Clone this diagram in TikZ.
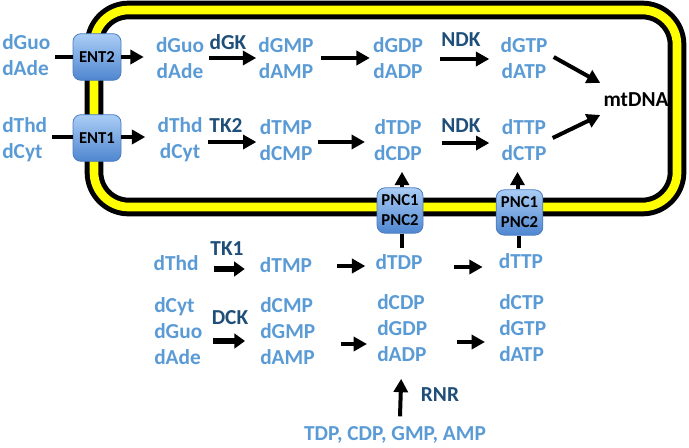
\documentclass[tikz,border=0pt]{standalone}
\usepackage{fontspec}
\setmainfont{Carlito}
\usetikzlibrary{arrows.meta,calc}
\definecolor{lb}{HTML}{5B9BD5}
\definecolor{db}{HTML}{1F4E79}
\definecolor{boxtop}{HTML}{AACDF5}
\definecolor{boxbot}{HTML}{4F86D0}
\definecolor{boxline}{HTML}{4A7BBF}
\definecolor{memy}{HTML}{FFFF00}
\begin{document}
\begin{tikzpicture}[x=0.75pt,y=-0.75pt,
  mol/.style={text=lb,font=\bfseries\fontsize{16}{19.5}\selectfont,inner sep=0pt,align=center},
  moll/.style={mol,align=left,anchor=west},
  enz/.style={text=db,font=\bfseries\fontsize{16}{18}\selectfont,inner sep=0pt},
  tbox/.style={draw=boxline,line width=0.6pt,rounded corners=6pt,top color=boxtop,bottom color=boxbot,
    font=\bfseries\fontsize{12.5}{15}\selectfont,align=center,inner sep=0pt},
  arr/.style={line width=3pt,-{Triangle[length=10pt,width=10.5pt]}},
  sarr/.style={line width=3.8pt,-{Triangle[length=8pt,width=11pt]}},
  thk/.style={line width=3pt},
]
\useasboundingbox (0,0) rectangle (689,447);
% membrane
\draw[line width=14pt, rounded corners=26pt] (94,10) rectangle (677,207);
\draw[memy, line width=6.5pt, rounded corners=26pt] (94,10) rectangle (677,207);

% outside
\node[moll] (o1) at (2,55) {dGuo\\dAde};
\node[moll] (o2) at (2,140) {dThd\\dCyt};
\node[tbox,minimum width=36pt,minimum height=35pt] (ent2) at (97,57) {ENT2};
\node[tbox,minimum width=36pt,minimum height=35pt] (ent1) at (97,138) {ENT1};

% inner row 1
\node[mol] (i1) at (180,58) {dGuo\\dAde};
\node[enz] (dgk) at (228,42) {dGK};
\node[mol] (gmp) at (286,58) {dGMP\\dAMP};
\node[mol] (gdp) at (398,58) {dGDP\\dADP};
\node[enz] (ndk1) at (461,40) {NDK};
\node[mol] (gtp) at (524,58) {dGTP\\dATP};
\node[font=\bfseries\fontsize{16}{18}\selectfont,inner sep=0pt] (mt) at (636,100) {mtDNA};

% inner row 2
\node[mol] (i2) at (180,140) {dThd\\dCyt};
\node[enz] (tk2) at (226,126) {TK2};
\node[mol] (tmp) at (286,140) {dTMP\\dCMP};
\node[mol] (tdp) at (398,140) {dTDP\\dCDP};
\node[enz] (ndk2) at (461,126) {NDK};
\node[mol] (ttp) at (524,140) {dTTP\\dCTP};

% PNC boxes
\node[tbox,minimum width=34.5pt,minimum height=34pt] (pnc1) at (400,210.5) {PNC1\\PNC2};
\node[tbox,minimum width=35pt,minimum height=34pt] (pnc2) at (519.5,212.5) {PNC1\\PNC2};

% lower
\node[mol] (lthd) at (176,263) {dThd};
\node[enz] (tk1) at (227,249) {TK1};
\node[mol] (ltmp) at (286,265) {dTMP};
\node[mol] (ltdp) at (399,262) {dTDP};
\node[mol] (lttp) at (521,261) {dTTP};
\node[moll] (lc) at (154,331.5) {dCyt\\dGuo\\dAde};
\node[enz] (dck) at (230,318) {DCK};
\node[moll] (lcmp) at (260,331.5) {dCMP\\dGMP\\dAMP};
\node[moll] (lcdp) at (377,328) {dCDP\\dGDP\\dADP};
\node[moll] (lctp) at (499,328) {dCTP\\dGTP\\dATP};
\node[enz] (rnr) at (440,395) {RNR};
\node[mol] (src) at (395,435) {TDP, CDP, GMP, AMP};

% connectors through ENT
\draw[thk] ($(o1.east |- ent2)+(5,0)$) -- (ent2);
\draw[arr] (ent2) -- ($(i1.west |- ent2)+(-12,0)$);
\draw[thk] ($(o2.east |- ent1)+(5,-1)$) -- ($(ent1.west)+(0,-1)$);
\draw[arr] ($(ent1.east)+(0,-1)$) -- ($(i2.west |- ent1)+(-12,-1)$);

% row 1 arrows
\draw[arr] ($(i1.east)+(5,0)$) -- ($(gmp.west)+(-2,0)$);
\draw[arr] ($(gmp.east)+(7,0)$) -- ($(gdp.west)+(-3,0)$);
\draw[arr] ($(gdp.east)+(17,1)$) -- ($(gtp.west)+(-11,1)$);
\draw[arr] ($(gtp.east)+(6,-1)$) -- ($(mt.west)+(-3,-17)$);

% row 2 arrows
\draw[arr] ($(i2.east)+(5,2)$) -- ($(tmp.west)+(-3,2)$);
\draw[arr] ($(tmp.east)+(5,2)$) -- ($(tdp.west)+(-9,2)$);
\draw[arr] ($(tdp.east)+(20,3)$) -- ($(ttp.west)+(-12,3)$);
\draw[arr] ($(ttp.east)+(6,-2)$) -- ($(mt.west)+(-3,15)$);

% PNC connectors
\draw[arr] ($(pnc1.north)+(2,0)$) -- ($(pnc1.north |- tdp.south)+(2,11)$);
\draw[arr] ($(pnc2.north)+(-2,0)$) -- ($(pnc2.north |- ttp.south)+(-2,11)$);
\draw[thk] ($(pnc1.south)+(2,0)$) -- ($(pnc1.south |- ltdp.north)+(2,-6)$);
\draw[thk] ($(pnc2.south)+(-1,0)$) -- ($(pnc2.south |- lttp.north)+(-1,-5)$);

% lower arrows
\draw[sarr] ($(lthd.east)+(15,6)$) -- ($(ltmp.west)+(-15,4)$);
\draw[arr] ($(ltmp.east)+(25,1)$) -- ($(ltdp.west)+(-10,4)$);
\draw[arr] ($(ltdp.east)+(31,5)$) -- ($(lttp.west)+(-16,6)$);
\draw[sarr] ($(lc.east)+(11,9.5)$) -- ($(lcmp.west)+(-15,9.5)$);
\draw[arr] ($(lcmp.east)+(25,12.5)$) -- ($(lcdp.west)+(-10,16)$);
\draw[arr] ($(lcdp.east)+(30,14)$) -- ($(lctp.west)+(-14,14)$);
\draw[arr] ($(src.north)+(5,-10)$) -- ($(lcdp.south)+(-1,17)$);
\end{tikzpicture}
\end{document}
